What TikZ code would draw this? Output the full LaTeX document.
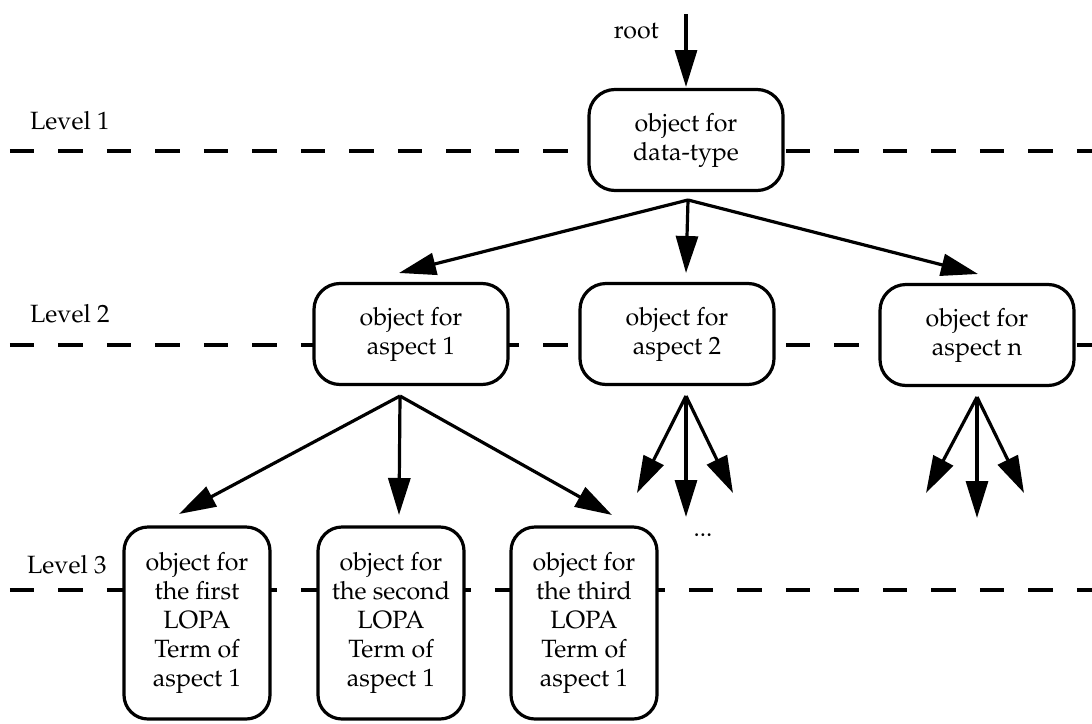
\documentclass[tikz,border=0pt]{standalone}
\usepackage[T1]{fontenc}
\usepackage{mathpazo}
\usetikzlibrary{arrows.meta}
\begin{document}
\begin{tikzpicture}[x=1pt,y=-1pt,
  txt/.style={font=\fontsize{25}{29}\selectfont},
  obj/.style={txt, draw, line width=3.2pt, fill=white, align=center,
    inner sep=0pt, rounded corners=26pt},
  wide/.style={obj, minimum width=194pt, minimum height=101pt},
  tall/.style={obj, minimum width=146pt, minimum height=192pt, rounded corners=24pt},
  levelline/.style={line width=3.5pt, dash pattern=on 24.5pt off 24pt, dash phase=38.7pt},
  arr/.style={line width=3.2pt, -{Triangle[length=37pt,width=22pt]}},
  lbl/.style={txt, anchor=west, inner sep=0pt}
]
\useasboundingbox (0,0) rectangle (1092,723);

% level separators
\coordinate (l1w) at (0,151);   \coordinate (l1e) at (1092,151);
\coordinate (l2w) at (0,345);   \coordinate (l2e) at (1092,345);
\coordinate (l3w) at (0,590);   \coordinate (l3e) at (1092,590);
\draw[levelline] (l1w) -- (l1e);
\draw[levelline] (l2w) -- (l2e);
\draw[levelline] (l3w) -- (l3e);

% level labels
\node[lbl] (lev1) at (30,121) {Level 1};
\node[lbl] (lev2) at (30,314) {Level 2};
\node[lbl] (lev3) at (27,565) {Level 3};

% objects
\node[wide] (dt) at (686,140) {object for\\data-type};
\node[wide] (a1) at (411,334) {object for\\aspect 1};
\node[wide] (a2) at (677,334) {object for\\aspect 2};
\node[wide] (an) at (977,335) {object for\\aspect n};
\node[tall] (t1) at (197,623) {object for\\the first\\LOPA\\Term of\\aspect 1};
\node[tall] (t2) at (391,623) {object for\\the second\\LOPA\\Term of\\aspect 1};
\node[tall] (t3) at (584,623) {object for\\the third\\LOPA\\Term of\\aspect 1};

% root entry
\node[txt, anchor=base east, inner sep=0pt] (root) at (659,38) {root};
\coordinate (rootin) at (686,14);
\coordinate (roottip) at (686,87);
\draw[arr] (rootin) -- (roottip);

% data-type to aspects
\coordinate (dtapex) at (688,200);
\coordinate (dt1) at (399,273);
\coordinate (dt2) at (686,273);
\coordinate (dtn) at (978,274);
\draw[arr] (dtapex) -- (dt1);
\draw[arr] (dtapex) -- (dt2);
\draw[arr] (dtapex) -- (dtn);

% aspect 1 to its terms
\coordinate (a1apex) at (400,396);
\coordinate (a1t1) at (179,514);
\coordinate (a1t2) at (399,515);
\coordinate (a1t3) at (612,515);
\draw[arr] (a1apex) -- (a1t1);
\draw[arr] (a1apex) -- (a1t2);
\draw[arr] (a1apex) -- (a1t3);

% aspect 2 fan
\coordinate (a2apex) at (686,396);
\coordinate (a2l) at (637,493);
\coordinate (a2m) at (686,517);
\coordinate (a2r) at (733,493);
\draw[arr] (a2apex) -- (a2l);
\draw[arr] (a2apex) -- (a2m);
\draw[arr] (a2apex) -- (a2r);

% aspect n fan
\coordinate (anapex) at (977,397);
\coordinate (anl) at (926,493);
\coordinate (anm) at (977,518);
\coordinate (anr) at (1024,493);
\draw[arr] (anapex) -- (anl);
\draw[arr] (anapex) -- (anm);
\draw[arr] (anapex) -- (anr);

\node[txt, inner sep=0pt] (dots) at (703,535) {...};
\end{tikzpicture}
\end{document}
